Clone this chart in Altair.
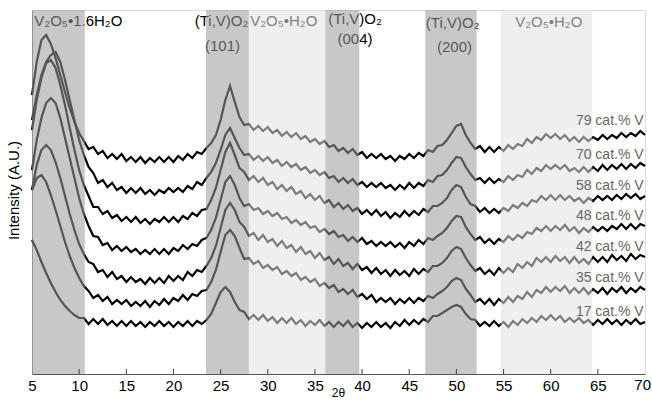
import altair as alt
import pandas as pd

# 2-theta sampling grid (degrees), 5 to 70 every 0.5
THETA_START = 5.0
THETA_STEP = 0.5
two_theta = [THETA_START + THETA_STEP * i for i in range(131)]

# intensities (arbitrary units, already stacked)
i79 = [305, 338, 360, 365, 356, 342, 325, 308, 292, 278,
       267, 259, 251, 253, 246, 249, 242, 246, 241, 246,
       239, 243, 238, 243, 237, 242, 238, 243, 238, 243,
       238, 244, 240, 246, 242, 248, 246, 252, 257, 265,
       280, 300, 314, 298, 283, 275, 276, 270, 274, 269,
       273, 267, 270, 264, 268, 263, 267, 261, 264, 258,
       261, 256, 259, 253, 255, 249, 252, 247, 251, 245,
       248, 242, 246, 242, 246, 241, 244, 239, 244, 241,
       246, 242, 247, 244, 250, 248, 254, 255, 260, 267,
       274, 276, 265, 257, 251, 254, 248, 253, 248, 253,
       249, 255, 251, 256, 254, 261, 257, 263, 260, 266,
       262, 266, 261, 265, 259, 263, 258, 263, 259, 263,
       260, 265, 261, 265, 262, 267, 263, 267, 264, 269,
       265]
i70 = [280, 305, 325, 338, 345, 348, 338, 320, 300, 280,
       260, 245, 233, 227, 217, 220, 213, 217, 210, 213,
       207, 212, 207, 212, 206, 210, 205, 210, 207, 212,
       208, 212, 208, 214, 211, 218, 215, 222, 228, 237,
       250, 265, 272, 262, 252, 245, 246, 240, 244, 239,
       243, 237, 240, 234, 238, 233, 236, 230, 233, 227,
       230, 225, 228, 222, 224, 218, 222, 217, 221, 215,
       218, 213, 217, 213, 217, 212, 215, 210, 215, 211,
       217, 212, 217, 214, 220, 218, 224, 225, 230, 237,
       243, 242, 233, 226, 220, 222, 217, 222, 217, 221,
       218, 224, 220, 225, 223, 230, 226, 232, 229, 235,
       231, 235, 231, 235, 229, 232, 228, 233, 228, 233,
       229, 235, 230, 235, 231, 236, 231, 236, 232, 237,
       234]
i58 = [270, 300, 322, 337, 340, 332, 315, 295, 272, 250,
       230, 215, 204, 193, 193, 186, 189, 182, 185, 179,
       183, 178, 183, 177, 181, 176, 181, 178, 183, 178,
       183, 178, 184, 181, 187, 184, 190, 191, 200, 212,
       230, 248, 257, 245, 232, 228, 220, 224, 218, 222,
       215, 218, 211, 215, 209, 213, 206, 209, 202, 206,
       200, 204, 197, 200, 193, 197, 191, 195, 189, 192,
       186, 190, 185, 190, 184, 188, 182, 187, 183, 189,
       184, 189, 185, 191, 188, 194, 194, 197, 202, 210,
       215, 213, 203, 196, 194, 188, 192, 187, 191, 187,
       192, 189, 195, 192, 197, 194, 200, 198, 204, 200,
       205, 200, 205, 200, 204, 199, 202, 197, 202, 199,
       204, 200, 204, 200, 205, 201, 206, 202, 206, 201,
       204]
i48 = [230, 260, 282, 297, 302, 297, 282, 262, 242, 222,
       202, 186, 174, 164, 163, 155, 157, 150, 154, 149,
       153, 148, 151, 146, 150, 146, 151, 146, 151, 146,
       152, 149, 155, 151, 156, 154, 160, 162, 170, 182,
       200, 218, 224, 215, 202, 194, 196, 190, 192, 186,
       189, 184, 187, 181, 183, 177, 180, 175, 178, 172,
       174, 168, 171, 166, 169, 163, 165, 159, 163, 158,
       162, 156, 159, 154, 158, 154, 158, 153, 157, 152,
       158, 154, 160, 156, 162, 160, 164, 167, 172, 179,
       184, 183, 173, 166, 160, 163, 157, 161, 156, 161,
       158, 164, 160, 165, 162, 168, 166, 172, 169, 174,
       169, 174, 170, 175, 169, 173, 167, 172, 168, 173,
       169, 173, 169, 174, 171, 176, 171, 176, 171, 176,
       174]
i42 = [210, 235, 250, 255, 250, 238, 222, 204, 186, 170,
       156, 146, 138, 136, 128, 130, 123, 128, 121, 124,
       118, 123, 118, 121, 116, 122, 117, 122, 117, 124,
       119, 124, 120, 128, 124, 130, 128, 134, 142, 154,
       172, 190, 197, 190, 178, 173, 164, 167, 160, 165,
       158, 161, 154, 159, 152, 155, 148, 153, 146, 149,
       142, 147, 140, 143, 136, 141, 134, 137, 131, 136,
       130, 133, 127, 132, 126, 130, 124, 130, 125, 129,
       124, 131, 126, 131, 128, 134, 134, 137, 142, 149,
       153, 151, 142, 135, 129, 132, 126, 130, 125, 132,
       127, 132, 128, 136, 132, 138, 134, 142, 138, 143,
       138, 144, 139, 143, 137, 143, 137, 141, 136, 143,
       138, 143, 138, 145, 140, 144, 139, 146, 141, 145,
       143]
i35 = [210, 222, 225, 218, 205, 190, 174, 158, 144, 132,
       122, 114, 109, 102, 105, 99, 103, 96, 100, 96,
       100, 94, 98, 94, 99, 93, 99, 95, 101, 96,
       102, 99, 105, 100, 106, 104, 109, 110, 118, 130,
       148, 165, 170, 164, 152, 141, 142, 136, 139, 132,
       135, 130, 133, 126, 129, 124, 127, 120, 123, 118,
       121, 114, 117, 112, 115, 108, 111, 106, 110, 103,
       106, 101, 105, 98, 102, 98, 102, 96, 101, 97,
       102, 97, 102, 99, 104, 102, 106, 109, 113, 119,
       122, 120, 111, 105, 98, 101, 96, 101, 95, 101,
       97, 103, 98, 104, 101, 108, 103, 110, 107, 113,
       108, 113, 109, 114, 107, 112, 107, 112, 106, 111,
       107, 112, 106, 112, 108, 113, 107, 112, 108, 113,
       110]
i17 = [160, 150, 138, 127, 117, 108, 100, 94, 89, 85,
       82, 82, 76, 81, 76, 81, 75, 79, 74, 79,
       74, 79, 74, 78, 73, 78, 74, 79, 74, 78,
       73, 78, 74, 79, 74, 79, 76, 80, 86, 97,
       108, 113, 108, 98, 90, 88, 81, 85, 80, 85,
       79, 83, 77, 82, 77, 82, 76, 80, 74, 79,
       75, 80, 74, 78, 73, 78, 74, 79, 73, 77,
       72, 77, 73, 78, 73, 77, 72, 78, 74, 80,
       75, 80, 76, 81, 78, 84, 84, 87, 90, 93,
       95, 93, 86, 81, 80, 74, 78, 74, 79, 74,
       78, 73, 79, 75, 81, 77, 82, 78, 84, 80,
       85, 80, 84, 78, 82, 78, 82, 77, 80, 75,
       80, 76, 81, 76, 80, 75, 80, 76, 81, 76,
       78]

sample_names = ["79 cat.% V", "70 cat.% V", "58 cat.% V", "48 cat.% V",
                "42 cat.% V", "35 cat.% V", "17 cat.% V"]
series = [i79, i70, i58, i48, i42, i35, i17]
label_level = [279, 245, 214, 184, 153, 122, 88]
label_theta = [69.85] * 7

# reflection bands (2-theta ranges)
band_start = [5.0, 23.45, 36.1, 46.7, 28.0, 54.7]
band_end = [10.6, 28.0, 39.7, 52.15, 36.1, 64.4]
band_tone = ["dark", "dark", "dark", "dark", "light", "light"]

# phase annotations
ann_text = ["(Ti,V)O₂", "(101)", "V₂O₅•H₂O", "(Ti,V)O₂", "(004)",
            "(Ti,V)O₂", "(200)", "V₂O₅•H₂O"]
ann_theta = [25.1, 25.2, 31.7, 39.25, 39.25, 49.6, 49.8, 59.8]
ann_level = [379, 354, 379, 381, 361, 377, 353, 378]
left_text = ["V₂O₅•1.6H₂O"]
left_theta = [5.25]
left_level = [379]

tick_values = [10, 15, 20, 25, 30, 35, 40, 45, 50, 55, 60, 65]
label_values = [5, 10, 15, 20, 25, 30, 35, 40, 45, 50, 55, 60, 65]
last_label = ["70"]
last_label_theta = [70]

rows = []
for name, vals in zip(sample_names, series):
    for t, v in zip(two_theta, vals):
        rows.append({"sample": name, "two_theta": t, "intensity": v})
df = pd.DataFrame(rows)

bands_df = pd.DataFrame({"start": band_start, "end": band_end, "tone": band_tone})
ann_df = pd.DataFrame({"x": ann_theta, "y": ann_level, "text": ann_text})
left_df = pd.DataFrame({"x": left_theta, "y": left_level, "text": left_text})
lab_df = pd.DataFrame({"x": label_theta, "y": label_level, "text": sample_names})
tick_df = pd.DataFrame({"t": tick_values})
last_df = pd.DataFrame({"x": last_label_theta, "text": last_label})

x_scale = alt.Scale(domain=[5, 70], nice=False, zero=False)
y_scale = alt.Scale(domain=[26, 390], nice=False, zero=False)

x_axis = alt.Axis(values=label_values, title="2θ", labelFontSize=15, labelColor="black",
                  labelFlush=False, labelPadding=4, ticks=False, domainColor="#555",
                  titleFontSize=12, titleFontWeight="normal", titleX=306, titleY=13,
                  titleBaseline="top", titleColor="black", grid=False, labelOverlap=False)
y_axis = alt.Axis(labels=False, ticks=False, domainColor="#888", grid=False,
                  title="Intensity (A.U.)", titleFontSize=15, titleFontWeight="normal",
                  titleX=-19, titleY=180, titleAngle=270, titleAlign="center",
                  titleBaseline="middle", titleColor="black")


def xq(field):
    return alt.X(field, scale=x_scale, axis=x_axis, title="2θ")


def yq(field):
    return alt.Y(field, scale=y_scale, axis=y_axis, title="Intensity (A.U.)")


lines = alt.Chart(df).mark_line(color="black", strokeWidth=2.2).encode(
    x=xq("two_theta:Q"),
    y=yq("intensity:Q"),
    detail="sample:N",
)

ann_center = alt.Chart(ann_df).mark_text(fontSize=15, align="center", baseline="middle",
                                         color="black").encode(
    x=xq("x:Q"), y=yq("y:Q"), text="text:N",
)
ann_left = alt.Chart(left_df).mark_text(fontSize=15, align="left", baseline="middle",
                                        color="black").encode(
    x=xq("x:Q"), y=yq("y:Q"), text="text:N",
)

bands = alt.Chart(bands_df).mark_rect(opacity=0.55).encode(
    x=xq("start:Q"),
    x2="end:Q",
    y=alt.value(0),
    y2=alt.value(364),
    color=alt.Color("tone:N", scale=alt.Scale(domain=["dark", "light"],
                                              range=["#9b9b9b", "#e1e1e1"]), legend=None),
)

labels = alt.Chart(lab_df).mark_text(fontSize=14, align="right", baseline="middle",
                                     color="#666").encode(
    x=xq("x:Q"), y=yq("y:Q"), text="text:N",
)

ticks = alt.Chart(tick_df).mark_rule(color="#444", strokeWidth=1).encode(
    x=xq("t:Q"),
    y=alt.value(364),
    y2=alt.value(359),
)

last_tick_label = alt.Chart(last_df).mark_text(fontSize=15, align="right", baseline="top",
                                               dx=6, color="black").encode(
    x=xq("x:Q"),
    y=alt.value(368),
    text="text:N",
)

chart = alt.layer(lines, ann_left, ann_center, bands, labels, ticks, last_tick_label).properties(
    width=613, height=364,
    padding={"left": 32, "top": 10, "right": 7, "bottom": 26},
    autosize=alt.AutoSizeParams(type="none"),
).configure_view(stroke="#888").configure(font="Liberation Sans")

chart.save("out.html", embed_options={"renderer": "svg", "actions": False})
